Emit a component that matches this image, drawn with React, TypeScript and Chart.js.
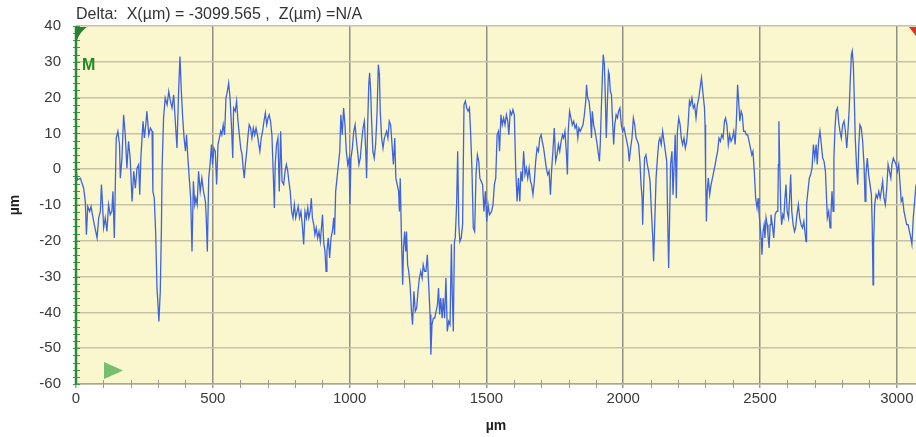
import React, { useEffect, useRef } from "react";
import { Chart, registerables } from "chart.js";

Chart.register(...registerables);

const headerText = "Delta:  X(µm) = -3099.565 ,  Z(µm) =N/A";
const xAxisTitle = "µm";
const yAxisTitle = "µm";
const markerLabel = "M";
const xTicks = [0, 500, 1000, 1500, 2000, 2500, 3000];
const yTicks = [-60, -50, -40, -30, -20, -10, 0, 10, 20, 30, 40];
const xRange = [0, 3070];
const yRange = [-60, 40];

// profile points [x (µm), z (µm)], per region
const profile0to360: [number, number][] = [
  [0, 0], [5, -3], [16, -2.5], [28, -5.3], [34, -9], [38, -18.3], [43, -10.4], [50, -11.8], [55, -10.4], [60, -12.7],
  [67, -15.5], [72, -17.4], [77, -19.2], [83, -13.6], [89, -11.8], [93, -4.3], [97, -9.9], [101, -16.4], [107, -13.6],
  [113, -17.4], [119, -9.9], [125, -12.7], [131, -11.8], [135, -6.2], [140, -19.2], [144, -3.4], [147, 8.7], [153, 10.6],
  [159, 6.9], [162, -2.5], [168, 3.1], [174, 15.2], [180, 9.6], [186, 0.3], [192, 7.8], [198, 3.1], [205, -9], [211, -0.6],
  [217, -5.3], [223, 0.3], [229, 1.3], [233, -7.1], [237, 3.1], [245, 13.4], [250, 8.7], [255, 12.4], [259, 16.2],
  [266, 9.6], [272, 11.5], [278, 10.6], [281, -6.2], [286, -8.1], [291, -17.4], [296, -33.2], [301, -39.7], [303, -42.5],
  [308, -34.1], [312, -17.4], [315, 1.3], [320, 14.3], [326, 19.9], [333, 18], [339, 21.7], [345, 19], [351, 17.1],
  [357, 20.8],
];
const profile360to750: [number, number][] = [
  [363, 13.4], [369, 5.9], [375, 21.7], [380, 31.5], [385, 21.7], [390, 14.3], [395, 8.7], [400, 5], [404, 9.6], [409, 3.1],
  [414, -2.5], [419, -8], [424, -23], [429, -3.4], [434, -9.9], [438, -8], [443, -9.9], [448, -0.6], [454, -6.2],
  [460, -2.5], [466, -6.2], [473, -9], [476, -13.6], [480, -23], [485, -2.5], [490, 1.3], [495, 6.9], [499, 1.3],
  [504, 5.9], [509, 5], [514, -4.3], [519, 6.9], [524, 8.7], [529, 10.6], [533, 9.6], [538, 12.4], [543, 9.6], [548, 19.9],
  [553, 21.7], [558, 24.1], [563, 19.9], [568, 12.4], [573, 3.1], [576, 17.1], [582, 16.2], [587, 19], [592, 13.4],
  [597, 9.6], [602, 5.9], [607, 4], [611, 0.3], [615, -2.5], [619, 1.3], [624, 5], [629, 9.6], [633, 12.4], [638, 11.5],
  [643, 8.7], [648, 11.5], [653, 9.6], [658, 11.5], [663, 9.6], [668, 6.9], [672, 5], [677, 8.7], [682, 10.6], [687, 13.4],
  [692, 15.7], [697, 12.4], [702, 14.3], [706, 15.2], [711, 13.4], [716, 9.6], [721, -1.5], [725, -10.8], [728, 1.3],
  [733, 6.9], [738, 8.7], [743, -6.2], [748, 10.6],
];
const profile750to1130: [number, number][] = [
  [753, -3.4], [759, -4.3], [764, -0.6], [769, 1.3], [774, -0.6], [778, -3.4], [783, -6.2], [788, -11.8], [793, -13.6],
  [798, -9.9], [803, -13.6], [808, -11.8], [812, -10.4], [817, -13.6], [822, -11.8], [827, -15.5], [832, -21], [837, -11.8],
  [842, -13.6], [847, -10.8], [851, -13.6], [856, -11.8], [860, -8.1], [864, -13.6], [869, -15.5], [873, -18.3],
  [878, -16.4], [883, -19.2], [888, -17.4], [893, -20.2], [898, -15.5], [901, -12.7], [905, -20.2], [910, -23],
  [914, -28.5], [917, -23], [922, -19.2], [927, -24.8], [932, -19.2], [937, -17.4], [942, -13.6], [945, -18.3],
  [949, -6.2], [954, -2.5], [959, 1.3], [964, 5], [968, 15.2], [973, 9.6], [978, 17.1], [983, 12.4], [988, 5], [993, 1.3],
  [998, 3.1], [1001, -9.9], [1005, 3.1], [1010, 5.9], [1015, 10.6], [1020, 12.4], [1024, 8.7], [1029, 5], [1034, 1.3],
  [1039, 3.1], [1044, 7.8], [1049, 11.5], [1054, 13.4], [1059, 5], [1062, -2.5], [1066, 12.4], [1070, 23.6], [1073, 26.9],
  [1077, 21.7], [1080, 14.3], [1085, 5], [1090, 3.1], [1095, 6.9], [1100, 15.2], [1105, 29.2], [1109, 26.4], [1112, 16.2],
  [1117, 8.7], [1122, 5.9], [1127, 8.7],
];
const profile1130to1515: [number, number][] = [
  [1135, 10.6], [1140, 8.7], [1145, 13.4], [1150, 12.4], [1155, 6.9], [1160, 1.3], [1165, 8.7], [1169, -2.5], [1174, -4.3],
  [1179, -6.2], [1182, -11.8], [1185, -2.5], [1189, -17.4], [1194, -32.3], [1197, -22], [1201, -17.4], [1205, -23],
  [1208, -17.4], [1212, -26.7], [1216, -28.5], [1221, -32.3], [1226, -39.7], [1230, -43.4], [1235, -34.1], [1240, -39.7],
  [1245, -38.8], [1250, -34.1], [1255, -30.4], [1260, -28.5], [1265, -30.4], [1269, -26.7], [1274, -28.5], [1279, -28.5],
  [1284, -23.9], [1289, -32.3], [1294, -40.6], [1297, -51.8], [1301, -43.4], [1306, -41.6], [1311, -41.6], [1316, -39.7],
  [1321, -37.8], [1325, -33.2], [1329, -40.6], [1333, -36], [1338, -41.6], [1342, -36], [1347, -41.6], [1352, -30.4],
  [1357, -45.3], [1362, -42.5], [1367, -43.4], [1372, -21], [1375, -34.1], [1379, -45.3], [1383, -20.2], [1386, -19.2],
  [1391, -9.9], [1395, 5], [1399, -15.5], [1403, -20.2], [1408, -19.2], [1413, -15.5], [1418, 18], [1423, 19],
  [1428, 17.1], [1433, 16.2], [1438, 17.1], [1442, 10.6], [1447, 0.3], [1452, -16.4], [1457, -17.4], [1462, -1.5],
  [1467, 4], [1472, 2.2], [1476, -2.5], [1481, -3.4], [1486, -4.3], [1491, -11.8], [1496, -6.2], [1501, -14.6],
  [1506, -9.9], [1511, -12.7],
];
const profile1515to1900: [number, number][] = [
  [1519, -11.8], [1524, -9.9], [1529, -4.3], [1534, -2.5], [1539, 9.6], [1544, 10.6], [1548, 5], [1553, 15.2], [1558, 12.4],
  [1563, 14.3], [1568, 12.4], [1573, 15.2], [1578, 13.4], [1582, 9.6], [1587, 16.2], [1592, 15.2], [1597, 16.6],
  [1602, 15.2], [1607, 0.3], [1612, -9], [1617, -2.5], [1622, -9], [1626, -0.6], [1631, -3.4], [1636, 5], [1641, -1.5],
  [1646, 0.3], [1651, -2.5], [1656, 0.3], [1661, -3.4], [1665, -4.3], [1670, -7.1], [1675, -3.4], [1680, 2.2], [1685, 5.9],
  [1690, 5], [1695, 8.7], [1700, 9.6], [1704, 7.8], [1709, 5.9], [1714, 3.1], [1719, 0.3], [1724, -1.5], [1729, -0.6],
  [1734, -7.1], [1738, -0.6], [1743, 5], [1748, 11.5], [1753, 2.2], [1758, 4], [1763, 6.9], [1768, 5], [1773, 7.8],
  [1778, 9.6], [1782, 8.7], [1787, 10.6], [1792, 5], [1796, -1.5], [1799, 10.6], [1804, 16.2], [1809, 14.3], [1814, 12.4],
  [1819, 13.4], [1824, 11.5], [1829, 12.4], [1834, 8.7], [1838, 11.5], [1843, 10.6], [1848, 11.5], [1853, 12.4],
  [1858, 15.2], [1863, 19], [1866, 23.6], [1870, 19.9], [1875, 19], [1880, 15.2], [1884, 8.7], [1887, 16.2], [1892, 12.4],
  [1897, 10.6],
];
const profile1900to2290: [number, number][] = [
  [1903, 7.8], [1908, 5], [1913, 2.2], [1916, 6.9], [1920, 17.1], [1924, 26.4], [1927, 32], [1931, 29.2], [1935, 19],
  [1938, 8.7], [1942, 18], [1946, 27.3], [1949, 26.4], [1953, 21.7], [1957, 20.8], [1961, 13.4], [1965, 6.9], [1969, 12.4],
  [1974, 15.2], [1979, 14.3], [1983, 16.2], [1988, 17.1], [1993, 12.4], [1998, 10.6], [2003, 11.5], [2008, 9.6],
  [2013, 7.8], [2018, 5.9], [2022, 2.2], [2027, 5.9], [2032, 8.7], [2037, 14.3], [2042, 12.4], [2047, 8.7], [2052, 7.8],
  [2056, 6.9], [2061, 2.2], [2065, -4.3], [2069, -8.1], [2071, -15.5], [2075, -4.3], [2078, 3.1], [2083, 4], [2088, 1.3],
  [2093, -0.6], [2098, -3.4], [2103, -11.8], [2108, -19.2], [2111, -25.7], [2115, -15.5], [2120, -2.5], [2125, 3.1],
  [2130, 7.8], [2134, 8.7], [2139, 6.9], [2144, 10.6], [2149, 7.8], [2154, 5], [2159, 2.2], [2162, -11.8], [2166, -27.6],
  [2170, -11.8], [2173, 1.3], [2178, 5], [2182, -7.1], [2186, 1.3], [2190, 9.6], [2194, -8.1], [2198, 10.6], [2203, 14.3],
  [2208, 12.4], [2212, 8.7], [2217, 6.9], [2222, 8.7], [2227, 5.9], [2232, 7.8], [2237, 12.4], [2242, 19], [2246, 18],
  [2251, 19.9], [2256, 17.1], [2261, 18], [2266, 14.3], [2271, 18], [2276, 19.9], [2281, 22.7], [2286, 25.5],
];
const profile2290to2670: [number, number][] = [
  [2292, 20.8], [2297, 17.1], [2299, 12.4], [2301, -1.5], [2304, -14.6], [2307, -6.2], [2311, -2.5], [2316, -7.1],
  [2321, -4.3], [2326, -2.5], [2331, -0.6], [2336, 1.3], [2340, 3.1], [2345, 5], [2350, 8.7], [2355, 7.8], [2360, 9.6],
  [2365, 8.7], [2370, 13.4], [2374, 14.3], [2379, 12.4], [2384, 6.9], [2389, 9.6], [2394, 7.8], [2399, 8.7], [2404, 10.6],
  [2409, 6.9], [2413, 12.4], [2418, 23.6], [2422, 19], [2426, 13.4], [2431, 16.2], [2435, 15.2], [2440, 10.6],
  [2445, 10.6], [2450, 9.6], [2455, 9.6], [2460, 7.8], [2465, 5.9], [2470, 4], [2474, 5], [2479, -0.6], [2484, -8.1],
  [2489, -10.8], [2493, -8.1], [2496, -11.8], [2500, -15.5], [2504, -19.2], [2507, -23.9], [2511, -17.4], [2515, -15.5],
  [2518, -19.2], [2522, -13.6], [2526, -15.5], [2529, -18.3], [2533, -22], [2537, -15.5], [2540, -12.7], [2545, -15.5],
  [2550, -19.2], [2555, -12.7], [2560, -11.8], [2565, -11.8], [2567, 1.3], [2569, 13.4], [2572, 1.3], [2576, -11.8],
  [2579, -15.5], [2583, -12.7], [2587, -13.6], [2591, -8.1], [2595, -4.3], [2599, -11.8], [2604, -13.6], [2608, -8.1],
  [2612, -1.5], [2616, -11.8], [2621, -15.5], [2626, -17.4], [2630, -16.4], [2635, -12.7], [2640, -9.9], [2645, -13.6],
  [2650, -15.5], [2655, -16.4], [2660, -14.6], [2664, -17.4], [2668, -20.2],
];
const profile2670to3070: [number, number][] = [
  [2670, -9.9], [2675, -6.2], [2680, -2.5], [2685, -1.5], [2690, 0.3], [2695, 6.9], [2700, 3.1], [2705, 6.9], [2709, 1.3],
  [2714, 7.8], [2719, 10.6], [2724, 6.9], [2729, 3.1], [2734, 2.2], [2739, -0.6], [2742, -6.2], [2746, -13.6],
  [2751, -11.8], [2756, -16.4], [2759, -12.7], [2763, -6.2], [2767, -11.8], [2770, 3.1], [2774, 11.5], [2778, 16.2],
  [2783, 17.1], [2787, 13.4], [2792, 10.6], [2797, 8.7], [2802, 12.4], [2807, 13.4], [2812, 10.6], [2817, 5.9],
  [2822, 11.5], [2826, 17.1], [2830, 25.5], [2834, 32], [2837, 33], [2841, 29.2], [2845, 18], [2848, 8.7], [2853, 0.3],
  [2857, -4.3], [2861, 6.9], [2865, 12.4], [2870, 11.5], [2875, 7.8], [2880, 1.3], [2884, -9], [2887, -1.5], [2892, 3.1],
  [2897, -1.5], [2902, -4.3], [2907, -7.1], [2910, -15.5], [2913, -32.3], [2915, -21], [2919, -9.9], [2924, -7.1],
  [2929, -8.1], [2934, -6.2], [2939, -8.1], [2943, -6.2], [2948, -3.4], [2953, -8.1], [2958, -9.9], [2963, -5.3],
  [2968, 1.3], [2973, -0.6], [2978, -2.5], [2982, 1.3], [2987, 3.1], [2992, 2.2], [2997, 1.3], [3002, -0.6], [3007, 1.3],
  [3012, -4.3], [3016, -9], [3021, -8.1], [3026, -11.8], [3031, -13.6], [3036, -15.5], [3041, -15.5], [3046, -17.4],
  [3051, -19.2], [3055, -21], [3060, -13.6], [3065, -9], [3070, -4.3],
];

const FONT = "'Liberation Sans', Arial, Helvetica, sans-serif";

export default function App() {
  const canvasRef = useRef<HTMLCanvasElement | null>(null);

  useEffect(() => {
    const canvas = canvasRef.current;
    if (!canvas) return;
    const points = [
      ...profile0to360,
      ...profile360to750,
      ...profile750to1130,
      ...profile1130to1515,
      ...profile1515to1900,
      ...profile1900to2290,
      ...profile2290to2670,
      ...profile2670to3070,
    ].map(([x, y]) => ({ x, y }));

    const decor = {
      id: "decor",
      beforeDraw(chart: any) {
        const { ctx, chartArea } = chart;
        ctx.save();
        ctx.fillStyle = "#FAF7CF";
        ctx.fillRect(chartArea.left, chartArea.top, chartArea.right - chartArea.left, chartArea.bottom - chartArea.top);
        ctx.restore();
      },
      afterDraw(chart: any) {
        const { ctx, chartArea, scales } = chart;
        const xs = scales.x;
        const ys = scales.y;
        ctx.save();
        // header text
        ctx.fillStyle = "#333";
        ctx.font = `16px ${FONT}`;
        ctx.textBaseline = "middle";
        ctx.textAlign = "left";
        ctx.fillText(headerText, chartArea.left, 15);
        // minor x ticks
        ctx.strokeStyle = "#9A9A92";
        ctx.lineWidth = 1;
        for (let v = xRange[0]; v <= xRange[1]; v += 100) {
          if (v % 500 === 0) continue;
          const px = Math.round(xs.getPixelForValue(v)) + 0.5;
          ctx.beginPath();
          ctx.moveTo(px, chartArea.bottom - 4);
          ctx.lineTo(px, chartArea.bottom + 4);
          ctx.stroke();
        }
        // green left axis
        const lx = chartArea.left;
        ctx.strokeStyle = "#3C9A48";
        ctx.lineWidth = 1;
        for (let v = yRange[0]; v <= yRange[1]; v += 2) {
          const py = Math.round(ys.getPixelForValue(v)) + 0.5;
          ctx.beginPath();
          ctx.moveTo(lx - 3, py);
          ctx.lineTo(lx + 4, py);
          ctx.stroke();
        }
        ctx.strokeStyle = "#2E8A3A";
        ctx.lineWidth = 2.5;
        ctx.beginPath();
        ctx.moveTo(lx, chartArea.top);
        ctx.lineTo(lx, chartArea.bottom);
        ctx.stroke();
        // top-left marker
        ctx.fillStyle = "#2A7F30";
        ctx.beginPath();
        ctx.moveTo(lx - 1, chartArea.top + 1);
        ctx.lineTo(lx + 11, chartArea.top + 1);
        ctx.quadraticCurveTo(lx + 4, chartArea.top + 6, lx + 1, chartArea.top + 14);
        ctx.lineTo(lx - 1, chartArea.top + 14);
        ctx.closePath();
        ctx.fill();
        // M label
        ctx.fillStyle = "#1E8A22";
        ctx.font = `bold 16px ${FONT}`;
        ctx.textBaseline = "middle";
        ctx.fillText(markerLabel, lx + 6, 66);
        // bottom green triangle
        ctx.fillStyle = "rgba(96,180,96,0.85)";
        ctx.beginPath();
        ctx.moveTo(lx + 28, 362);
        ctx.lineTo(lx + 28, 379);
        ctx.lineTo(lx + 47, 370.5);
        ctx.closePath();
        ctx.fill();
        // red marker top right
        ctx.fillStyle = "#E0302A";
        ctx.beginPath();
        ctx.moveTo(chartArea.right - 7, chartArea.top + 1);
        ctx.lineTo(chartArea.right + 7, chartArea.top + 1);
        ctx.lineTo(chartArea.right, chartArea.top + 10);
        ctx.closePath();
        ctx.fill();
        ctx.restore();
      },
    };

    const chart = new Chart(canvas, {
      type: "line",
      data: {
        datasets: [
          {
            data: points,
            borderColor: "#3E64DC",
            borderWidth: 1.3,
            pointRadius: 0,
            tension: 0,
            fill: false,
          },
        ],
      },
      options: {
        animation: false,
        responsive: false,
        events: [],
        layout: { padding: { top: 26, right: 0, left: 0, bottom: 0 } },
        plugins: {
          legend: { display: false },
          tooltip: { enabled: false },
          title: { display: false },
        },
        scales: {
          x: {
            type: "linear",
            min: xRange[0],
            max: xRange[1],
            afterBuildTicks: (s: any) => {
              s.ticks = xTicks.map((v) => ({ value: v }));
            },
            afterFit: (s: any) => {
              s.height = 53;
            },
            grid: { color: "#8F8F8A", lineWidth: 1.5, drawTicks: true, tickLength: 4, tickColor: "#9A9A92" },
            border: { color: "#A8A699", width: 1.5 },
            ticks: {
              font: { size: 15, family: FONT },
              color: "#3A3A3A",
              padding: 2,
              maxRotation: 0,
              autoSkip: false,
              callback: (v: any) => String(v),
            },
            title: {
              display: true,
              text: xAxisTitle,
              font: { size: 14, weight: "bold", family: FONT },
              color: "#222",
              padding: { top: 0, bottom: 2 },
            },
          },
          y: {
            type: "linear",
            min: yRange[0],
            max: yRange[1],
            afterBuildTicks: (s: any) => {
              s.ticks = yTicks.map((v) => ({ value: v }));
            },
            afterFit: (s: any) => {
              s.width = 76;
            },
            grid: { color: "#C6C2A4", lineWidth: 1.5, drawTicks: false },
            border: { display: false },
            ticks: {
              font: { size: 15, family: FONT },
              color: "#3A3A3A",
              padding: 15,
              autoSkip: false,
              callback: (v: any) => String(v),
            },
            title: {
              display: true,
              text: yAxisTitle,
              font: { size: 14, weight: "bold", family: FONT },
              color: "#222",
              padding: { top: 7, bottom: 0 },
            },
          },
        },
      },
      plugins: [decor],
    } as any);

    return () => chart.destroy();
  }, []);

  return (
    <div style={{ position: "fixed", left: 0, top: 0, width: 916, height: 437, background: "#fff" }}>
      <canvas ref={canvasRef} width={916} height={437} style={{ display: "block", width: 916, height: 437 }} />
    </div>
  );
}
